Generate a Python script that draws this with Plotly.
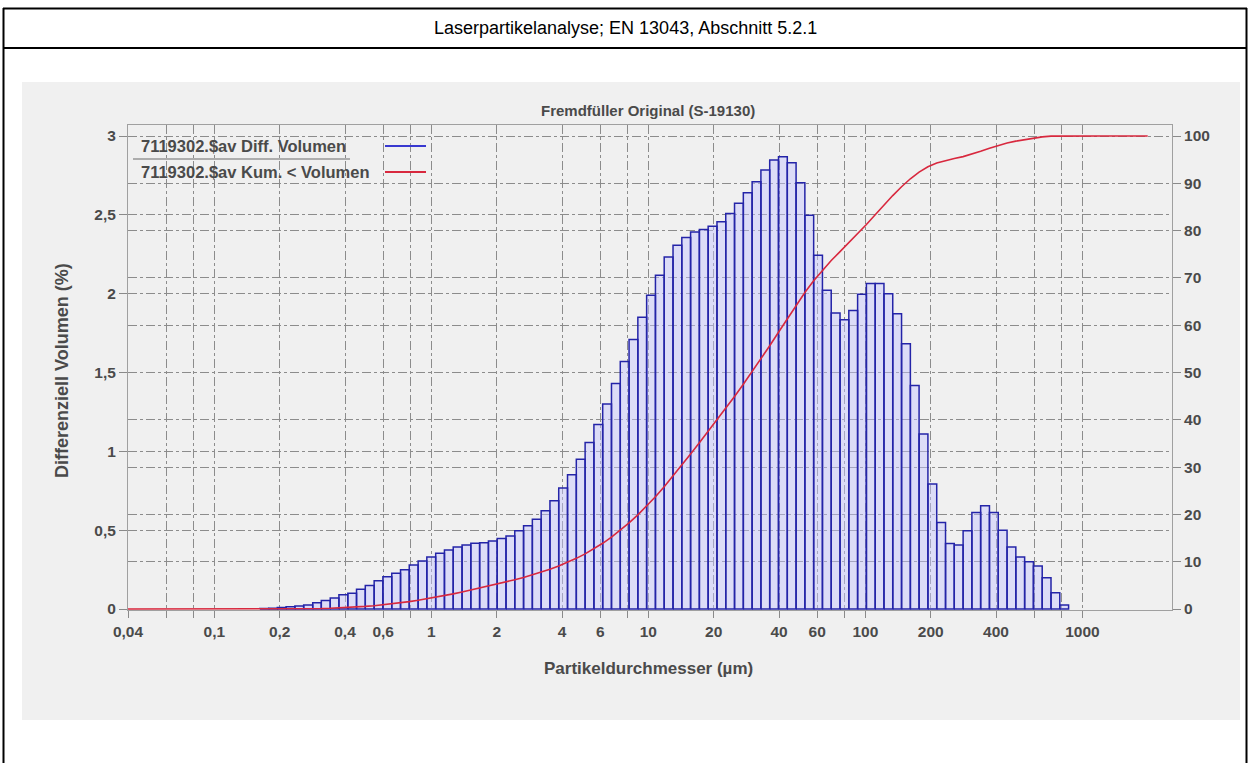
import math
import plotly.graph_objects as go

# Channel edges (µm) of the laser diffraction instrument, 116 channels
edges = [0.04, 0.044, 0.048, 0.053, 0.058, 0.064, 0.070, 0.077, 0.084, 0.093,
         0.102, 0.112, 0.122, 0.134, 0.148, 0.162, 0.178, 0.195, 0.214, 0.235,
         0.258, 0.284, 0.311, 0.342, 0.375, 0.412, 0.452, 0.496, 0.545, 0.598,
         0.657, 0.721, 0.791, 0.869, 0.953, 1.047, 1.149, 1.261, 1.385, 1.520,
         1.669, 1.832, 2.011, 2.208, 2.423, 2.660, 2.920, 3.206, 3.519, 3.863,
         4.241, 4.656, 5.111, 5.611, 6.159, 6.761, 7.422, 8.148, 8.944, 9.819,
         10.78, 11.83, 12.99, 14.26, 15.65, 17.18, 18.86, 20.71, 22.73, 24.95,
         27.39, 30.07, 33.01, 36.24, 39.78, 43.67, 47.94, 52.62, 57.77, 63.41,
         69.61, 76.42, 83.89, 92.09, 101.1, 111.0, 121.8, 133.7, 146.8, 161.2,
         176.8, 194.2, 213.2, 234.1, 256.8, 282.1, 309.6, 339.8, 373.1, 409.6,
         449.7, 493.6, 541.9, 594.9, 653.0, 716.8, 786.9, 863.9, 948.3, 1041,
         1143, 1255, 1377, 1512, 1660, 1822, 2000]

# Differential volume (%) per channel
diff_volume = [0, 0, 0, 0, 0, 0, 0, 0, 0, 0,
               0, 0, 0, 0, 0, 0.003, 0.005, 0.01, 0.015, 0.02,
               0.025, 0.04, 0.055, 0.07, 0.09, 0.10, 0.125, 0.15, 0.18, 0.205,
               0.227, 0.25, 0.28, 0.305, 0.33, 0.354, 0.375, 0.394, 0.407, 0.418,
               0.42, 0.432, 0.447, 0.464, 0.496, 0.528, 0.57, 0.623, 0.687, 0.767,
               0.852, 0.95, 1.057, 1.17, 1.30, 1.43, 1.57, 1.71, 1.85, 1.99,
               2.117, 2.233, 2.308, 2.356, 2.392, 2.407, 2.428, 2.456, 2.509, 2.573,
               2.64, 2.71, 2.784, 2.848, 2.869, 2.831, 2.704, 2.498, 2.244, 2.022,
               1.877, 1.835, 1.894, 1.996, 2.064, 2.064, 2.0, 1.873, 1.683, 1.418,
               1.11, 0.793, 0.549, 0.415, 0.407, 0.496, 0.612, 0.655, 0.612, 0.50,
               0.394, 0.33, 0.30, 0.273, 0.199, 0.104, 0.025, 0, 0, 0,
               0, 0, 0, 0, 0, 0]

# Cumulative volume (%) below each channel edge
cum_volume = [0, 0, 0, 0, 0, 0, 0, 0, 0, 0,
              0, 0, 0, 0, 0, 0, 0.00, 0.01, 0.02, 0.03,
              0.05, 0.08, 0.12, 0.17, 0.24, 0.33, 0.43, 0.56, 0.71, 0.89,
              1.09, 1.32, 1.57, 1.85, 2.16, 2.49, 2.84, 3.21, 3.61, 4.02,
              4.43, 4.85, 5.29, 5.73, 6.20, 6.69, 7.22, 7.79, 8.41, 9.10,
              9.87, 10.72, 11.67, 12.73, 13.90, 15.20, 16.63, 18.20, 19.91, 21.76,
              23.75, 25.86, 28.10, 30.40, 32.76, 35.15, 37.56, 39.99, 42.44, 44.95,
              47.53, 50.17, 52.88, 55.66, 58.51, 61.38, 64.21, 66.91, 69.41, 71.65,
              73.68, 75.55, 77.39, 79.28, 81.28, 83.34, 85.41, 87.41, 89.28, 90.96,
              92.38, 93.49, 94.28, 94.83, 95.25, 95.65, 96.15, 96.76, 97.42, 98.03,
              98.53, 98.92, 99.25, 99.55, 99.82, 99.97, 100.0, 100.0, 100.0, 100.0,
              100.0, 100.0, 100.0, 100.0, 100.0, 100.0, 100.0]

x_tickvals = [0.04, 0.06, 0.08, 0.1, 0.2, 0.4, 0.6, 0.8, 1, 2, 4, 6, 8, 10,
              20, 40, 60, 80, 100, 200, 400, 600, 800, 1000]
x_ticktext = ["0,04", "", "", "0,1", "0,2", "0,4", "0,6", "", "1", "2", "4",
              "6", "", "10", "20", "40", "60", "", "100", "200", "400", "", "", "1000"]
y_tickvals = [0, 0.5, 1, 1.5, 2, 2.5, 3]
y_ticktext = ["0", "0,5", "1", "1,5", "2", "2,5", "3"]
y2_tickvals = [0, 10, 20, 30, 40, 50, 60, 70, 80, 90, 100]
y2_ticktext = [str(v) for v in y2_tickvals]

series_diff = "7119302.$av Diff. Volumen"
series_cum = "7119302.$av Kum. < Volumen"

W, H = 1250, 763
L, R, T, B = 128, 1172, 125, 610


def px(x):
    return (x - L) / (R - L)


def py(y):
    return (B - y) / (B - T)


FONT = "Liberation Sans, Arial, sans-serif"
TXT = "#4a4a4a"
GRID = "#8c8c8c"

# histogram outline built from the channel data
bx, by = [], []
for k in range(len(diff_volume)):
    v = diff_volume[k]
    if v > 0:
        a, b = edges[k], edges[k + 1]
        bx += [a, a, b, b, a, None]
        by += [0, v, v, 0, 0, None]

fig = go.Figure()
fig.add_trace(go.Scatter(
    x=bx, y=by, mode="lines", fill="toself",
    fillcolor="rgba(195,195,255,0.45)",
    line=dict(color="#2424a8", width=1.5),
    name=series_diff, showlegend=False, hoverinfo="skip",
))
fig.add_trace(go.Scatter(
    x=edges, y=cum_volume, mode="lines", yaxis="y2",
    line=dict(color="#d8283e", width=1.6),
    name=series_cum, showlegend=False,
))

shapes = [
    # grey chart panel
    dict(type="rect", xref="paper", yref="paper", x0=px(22), x1=px(1240),
         y0=py(720), y1=py(82), fillcolor="#f0f0f0", line=dict(width=0), layer="below"),
    # table borders
    dict(type="line", xref="paper", yref="paper", x0=px(3), x1=px(1247),
         y0=py(8.5), y1=py(8.5), line=dict(color="black", width=2)),
    dict(type="line", xref="paper", yref="paper", x0=px(3), x1=px(1247),
         y0=py(48), y1=py(48), line=dict(color="black", width=2)),
    dict(type="line", xref="paper", yref="paper", x0=px(3.5), x1=px(3.5),
         y0=py(8), y1=py(763), line=dict(color="black", width=2)),
    dict(type="line", xref="paper", yref="paper", x0=px(1246.5), x1=px(1246.5),
         y0=py(8), y1=py(763), line=dict(color="black", width=2)),
    # legend separator and samples
    dict(type="line", xref="paper", yref="paper", x0=px(133), x1=px(350),
         y0=py(159), y1=py(159), line=dict(color="#6a6a6a", width=1)),
    dict(type="line", xref="paper", yref="paper", x0=px(385), x1=px(426),
         y0=py(146), y1=py(146), line=dict(color="#3838d0", width=2)),
    dict(type="line", xref="paper", yref="paper", x0=px(385), x1=px(426),
         y0=py(172), y1=py(172), line=dict(color="#d8283e", width=2)),
]

annotations = [
    dict(text="Laserpartikelanalyse; EN 13043, Abschnitt 5.2.1", xref="paper", yref="paper",
         x=px(625), y=py(28), showarrow=False, xanchor="center", yanchor="middle",
         font=dict(family=FONT, size=18, color="black")),
    dict(text="Fremdfüller Original (S-19130)", xref="paper", yref="paper",
         x=px(648), y=py(110), showarrow=False, xanchor="center", yanchor="middle",
         font=dict(family=FONT, size=15, color=TXT, weight="bold")),
    dict(text=series_diff, xref="paper", yref="paper",
         x=px(139), y=py(146), showarrow=False, xanchor="left", yanchor="middle",
         font=dict(family=FONT, size=16.5, color=TXT, weight="bold")),
    dict(text=series_cum, xref="paper", yref="paper",
         x=px(139), y=py(172), showarrow=False, xanchor="left", yanchor="middle",
         font=dict(family=FONT, size=16.5, color=TXT, weight="bold")),
    dict(text="Partikeldurchmesser (µm)", xref="paper", yref="paper",
         x=px(648), y=py(668), showarrow=False, xanchor="center", yanchor="middle",
         font=dict(family=FONT, size=17, color=TXT, weight="bold")),
    dict(text="Differenziell Volumen (%)", xref="paper", yref="paper",
         x=px(62), y=py(371), showarrow=False, xanchor="center", yanchor="middle",
         textangle=-90,
         font=dict(family=FONT, size=18, color=TXT, weight="bold")),
]

tickfont = dict(family=FONT, size=15.5, color=TXT, weight="bold")
fig.update_layout(
    width=W, height=H,
    margin=dict(l=L, r=W - R, t=T, b=H - B, pad=0),
    paper_bgcolor="white",
    plot_bgcolor="rgba(0,0,0,0)",
    showlegend=False,
    shapes=shapes,
    annotations=annotations,
    xaxis=dict(
        type="log", range=[math.log10(0.04), 3.413],
        tickvals=x_tickvals, ticktext=x_ticktext, tickfont=tickfont,
        showgrid=True, gridcolor=GRID, griddash="dashdot", gridwidth=1,
        ticks="outside", ticklen=7, tickcolor="#8a8a8a",
        showline=True, linecolor="#a0a0a0", linewidth=1, mirror=True,
        zeroline=False,
    ),
    yaxis=dict(
        range=[-0.006, 3.07],
        tickvals=y_tickvals, ticktext=y_ticktext, tickfont=tickfont,
        showgrid=True, gridcolor=GRID, griddash="dashdot", gridwidth=1,
        ticks="outside", ticklen=8, tickcolor="#8a8a8a",
        showline=True, linecolor="#a0a0a0", linewidth=1, mirror=True,
        zeroline=False,
    ),
    yaxis2=dict(
        overlaying="y", side="right", range=[-0.2, 102.33],
        tickvals=y2_tickvals, ticktext=y2_ticktext, tickfont=tickfont,
        showgrid=True, gridcolor=GRID, griddash="dashdot", gridwidth=1,
        ticks="outside", ticklen=8, tickcolor="#8a8a8a",
        showline=False, zeroline=False,
    ),
)

fig.write_html(
    "out.html",
    config={"displayModeBar": False},
    post_script="document.body.style.margin='0';document.body.style.overflow='hidden';",
)
